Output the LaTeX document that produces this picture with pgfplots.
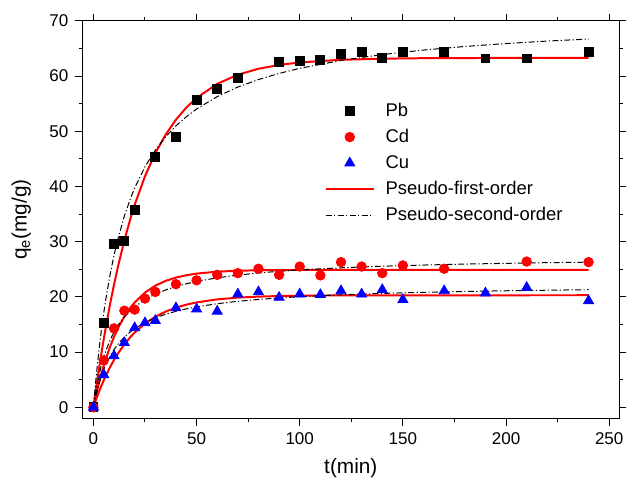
\documentclass[border=0pt]{standalone}
\usepackage{fontspec}
\setmainfont{Liberation Sans}
\usepackage{pgfplots}
\pgfplotsset{compat=1.18}

\definecolor{pfored}{RGB}{255,0,0}
\definecolor{cublue}{RGB}{0,0,255}

\begin{document}
\begin{tikzpicture}
\begin{axis}[
  scale only axis,
  width=270bp, height=200bp,
  xmin=-5.3, xmax=254.8, ymin=-2, ymax=70,
  xtick={0,50,100,150,200,250}, ytick={0,10,20,30,40,50,60,70},
  minor x tick num=1, minor y tick num=1,
  tick align=outside,
  major tick length=3.6bp, minor tick length=2bp,
  tick style={black, line width=0.5bp},
  axis line style={line width=0.6bp},
  /pgf/number format/assume math mode=true,
  tick label style={font=\fontsize{8.6}{10}\selectfont},
  xlabel={t(min)},
  ylabel={q\textsubscript{e}(mg/g)},
  ylabel style={yshift=2.5bp},
  label style={font=\fontsize{10.5}{12}\selectfont},
  legend style={draw=none, fill=none, at={(0.44,0.815)}, anchor=north west,
    font=\fontsize{9.3}{11}\selectfont, row sep=1bp,
    /tikz/every odd column/.append style={column sep=3.5bp}},
  legend cell align=left,
  legend image code/.code={\draw[mark repeat=2,mark phase=2]
    plot coordinates {(0bp,0bp)(12bp,0bp)(24bp,0bp)};},
]
% experimental data
\addplot[only marks, mark=square*, mark size=2.25bp, black] coordinates {
  (0,0)(5,15.3)(10,29.6)(15,30.2)(20,35.7)(30,45.3)(40,48.9)(50,55.7)
  (60,57.7)(70,59.6)(90,62.6)(100,62.7)(110,62.9)(120,64.0)(130,64.3)
  (140,63.3)(150,64.3)(170,64.4)(190,63.2)(210,63.2)(240,64.3)};
\addlegendentry{Pb}
\addplot[only marks, mark=*, mark size=2.4bp, pfored] coordinates {
  (0,0)(5,8.5)(10,14.3)(15,17.5)(20,17.7)(25,19.7)(30,20.9)(40,22.3)
  (50,23.0)(60,24.0)(70,24.3)(80,25.1)(90,24.0)(100,25.5)(110,23.9)
  (120,26.3)(130,25.5)(140,24.3)(150,25.7)(170,25.1)(210,26.4)(240,26.3)};
\addlegendentry{Cd}
\addplot[only marks, mark=triangle*, mark size=2.9bp, cublue] coordinates {
  (0,0)(5,5.9)(10,9.3)(15,11.7)(20,14.4)(25,15.3)(30,15.7)(40,18.0)
  (50,17.8)(60,17.4)(70,20.5)(80,20.9)(90,19.9)(100,20.5)(110,20.4)
  (120,21.1)(130,20.5)(140,21.3)(150,19.5)(170,21.1)(190,20.7)(210,21.7)
  (240,19.3)};
\addlegendentry{Cu}
% pseudo-first-order fits
\addplot[pfored, line width=1bp] coordinates {
  (0,0)(1,2.68)(2,5.26)(3,7.71)(4,10.07)(5,12.32)(6,14.48)(8,18.53)
  (10,22.24)(12,25.65)(15,30.24)(18,34.26)(20,36.68)(25,41.86)(30,46.03)
  (35,49.39)(40,52.10)(45,54.28)(50,56.03)(60,58.59)(70,60.24)(80,61.32)
  (90,62.02)(100,62.47)(120,62.95)(140,63.15)(160,63.24)(200,63.29)(240,63.30)};
\addlegendentry{Pseudo-first-order}
\addplot[pfored, line width=1bp, forget plot] coordinates {
  (0,0)(1,1.73)(2,3.34)(3,4.84)(4,6.23)(5,7.53)(6,8.73)(8,10.90)
  (10,12.78)(12,14.40)(15,16.44)(18,18.09)(20,19.00)(25,20.78)(30,22.03)
  (35,22.90)(40,23.50)(45,23.92)(50,24.22)(60,24.57)(70,24.74)(80,24.82)
  (90,24.86)(100,24.88)(120,24.90)(240,24.90)};
\addplot[pfored, line width=1bp, forget plot] coordinates {
  (0,0)(1,1.09)(2,2.12)(3,3.09)(4,4.01)(5,4.88)(6,5.71)(8,7.23)
  (10,8.59)(12,9.81)(15,11.40)(18,12.76)(20,13.54)(25,15.17)(30,16.40)
  (35,17.34)(40,18.05)(45,18.59)(50,19.00)(60,19.55)(70,19.87)(80,20.05)
  (90,20.16)(100,20.22)(120,20.27)(140,20.29)(240,20.30)};
% pseudo-second-order fits
\addplot[black, line width=0.5bp, dash pattern=on 3bp off 1.2bp on 0.6bp off 1.2bp] coordinates {
  (0,0)(1,4.23)(2,7.99)(3,11.35)(4,14.36)(5,17.09)(6,19.57)(8,23.90)
  (10,27.56)(12,30.69)(15,34.63)(18,37.86)(20,39.72)(25,43.57)(30,46.57)
  (35,48.99)(40,50.97)(45,52.62)(50,54.03)(60,56.28)(70,58.01)(80,59.37)
  (90,60.48)(100,61.40)(120,62.83)(140,63.89)(160,64.71)(180,65.36)
  (200,65.89)(220,66.34)(240,66.71)};
\addlegendentry{Pseudo-second-order}
\addplot[black, line width=0.5bp, dash pattern=on 3bp off 1.2bp on 0.6bp off 1.2bp, forget plot] coordinates {
  (0,0)(1,2.47)(2,4.53)(3,6.27)(4,7.77)(5,9.07)(6,10.21)(8,12.11)
  (10,13.63)(12,14.88)(15,16.37)(18,17.55)(20,18.21)(25,19.52)(30,20.50)
  (35,21.26)(40,21.88)(45,22.38)(50,22.80)(60,23.45)(70,23.95)(80,24.33)
  (90,24.64)(100,24.89)(120,25.27)(140,25.56)(160,25.77)(180,25.94)
  (200,26.08)(220,26.20)(240,26.29)};
\addplot[black, line width=0.5bp, dash pattern=on 3bp off 1.2bp on 0.6bp off 1.2bp, forget plot] coordinates {
  (0,0)(1,1.81)(2,3.35)(3,4.68)(4,5.83)(5,6.84)(6,7.73)(8,9.24)
  (10,10.47)(12,11.48)(15,12.72)(18,13.70)(20,14.25)(25,15.36)(30,16.20)
  (35,16.86)(40,17.39)(45,17.82)(50,18.19)(60,18.77)(70,19.20)(80,19.54)
  (90,19.81)(100,20.04)(120,20.38)(140,20.63)(160,20.83)(180,20.98)
  (200,21.11)(220,21.21)(240,21.30)};
\end{axis}
% page margins as in the reference
\path (current axis.south west) ++(-41.5bp,-34.5bp);
\path (current axis.north east) ++(3.5bp,10.5bp);
\end{tikzpicture}
\end{document}
